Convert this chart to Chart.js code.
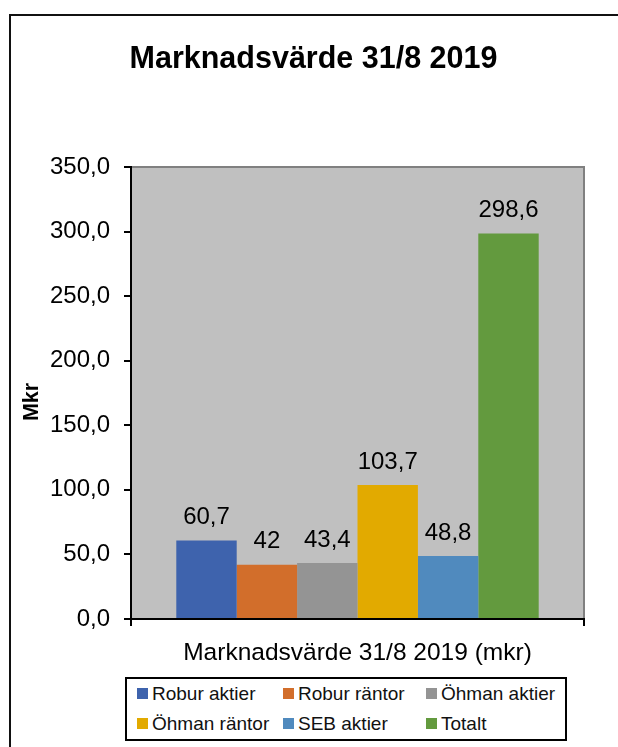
<!DOCTYPE html>
<html><head><meta charset="utf-8">
<script src="https://cdn.jsdelivr.net/npm/chart.js@4.4.1/dist/chart.umd.min.js"></script>
<style>
html,body{margin:0;padding:0;background:#fff;width:618px;height:747px;overflow:hidden;position:relative;font-family:"Liberation Sans",Arial,sans-serif;}
#wrap{position:absolute;left:0;top:0;width:618px;height:747px;}
#frame{position:absolute;left:9px;top:14px;width:700px;height:800px;border:2px solid #111;box-sizing:border-box;pointer-events:none;}
#legend{position:absolute;left:125px;top:677px;width:442px;height:64px;border:2px solid #000;box-sizing:border-box;background:#fff;}
.item{position:absolute;height:20px;display:flex;align-items:center;font-size:19px;color:#111;white-space:nowrap;line-height:1;}
.sw{width:11px;height:11px;margin-right:4px;flex:none;}
</style></head><body>
<div id="wrap"><canvas id="c" width="618" height="747"></canvas></div>
<div id="frame"></div>
<div id="legend"></div>
<script>
const chartTitle = 'Marknadsvärde 31/8 2019';
const categories = ['Marknadsvärde 31/8 2019 (mkr)'];
const seriesNames = ['Robur aktier', 'Robur räntor', 'Öhman aktier', 'Öhman räntor', 'SEB aktier', 'Totalt'];
const seriesValues = [60.7, 42, 43.4, 103.7, 48.8, 298.6];
const seriesColors = ['#3E63AD', '#D26E2B', '#949494', '#E2AA00', '#508ABE', '#639A3E'];
const yTicks = [0, 50, 100, 150, 200, 250, 300, 350];
const yAxisTitle = 'Mkr   ';

const FONT = '"Liberation Sans", Arial, sans-serif';
Chart.defaults.font.family = FONT;
Chart.defaults.color = '#000';

const fmt = v => String(v).replace('.', ',');

const plotBg = {
  id: 'plotBg',
  beforeDraw(chart) {
    const {ctx, chartArea: a} = chart;
    ctx.save();
    ctx.fillStyle = '#C0C0C0';
    ctx.fillRect(a.left, a.top, a.right - a.left, a.bottom - a.top);
    ctx.strokeStyle = '#808080';
    ctx.lineWidth = 2;
    ctx.beginPath();
    ctx.moveTo(a.left, a.top);
    ctx.lineTo(a.right, a.top);
    ctx.lineTo(a.right, a.bottom);
    ctx.stroke();
    ctx.restore();
  }
};

const dataLabels = {
  id: 'dataLabels',
  afterDatasetsDraw(chart) {
    const {ctx} = chart;
    ctx.save();
    ctx.font = '24px ' + FONT;
    ctx.fillStyle = '#000';
    ctx.textAlign = 'center';
    ctx.textBaseline = 'middle';
    chart.data.datasets.forEach((ds, i) => {
      const meta = chart.getDatasetMeta(i);
      meta.data.forEach((el, j) => {
        ctx.fillText(fmt(ds.data[j]), el.x, el.y - 23);
      });
    });
    ctx.restore();
  }
};

const chart = new Chart(document.getElementById('c'), {
  type: 'bar',
  data: {
    labels: categories,
    datasets: seriesNames.map((n, i) => ({
      label: n,
      data: [seriesValues[i]],
      backgroundColor: seriesColors[i],
      borderWidth: 0,
      categoryPercentage: 0.8,
      barPercentage: 1.0
    }))
  },
  options: {
    responsive: false,
    animation: false,
    events: [],
    layout: {padding: {left: 9, right: 0, top: 0, bottom: 68}},
    plugins: {
      legend: {display: false},
      tooltip: {enabled: false},
      title: {
        display: true,
        text: chartTitle,
        color: '#000',
        font: {size: 30.5, weight: 'bold', family: FONT, lineHeight: 1.2},
        padding: {top: 41, bottom: 89.4}
      }
    },
    scales: {
      x: {
        offset: true,
        grid: {display: true, offset: true, drawOnChartArea: false, drawTicks: true, tickLength: 7, color: '#000', lineWidth: 2},
        border: {display: true, color: '#000', width: 2},
        ticks: {font: {size: 24.5, family: FONT}, color: '#000', padding: 13, maxRotation: 0},
        afterFit(s) { s.height = 60; }
      },
      y: {
        min: 0, max: 350,
        afterBuildTicks(s) { s.ticks = yTicks.map(v => ({value: v})); },
        grid: {display: true, drawOnChartArea: false, drawTicks: true, tickLength: 7, color: '#000', lineWidth: 2},
        border: {display: true, color: '#000', width: 2},
        ticks: {font: {size: 24, family: FONT}, color: '#000', padding: 14, callback: v => v.toFixed(1).replace('.', ',')},
        title: {display: true, text: yAxisTitle, color: '#000', font: {size: 21.5, weight: 'bold', family: FONT}, padding: {top: 10, bottom: 0}},
        afterFit(s) { s.width = 122; }
      },
      yR: {
        position: 'right',
        display: true,
        min: 0, max: 350,
        grid: {display: false, drawTicks: false},
        border: {display: false},
        ticks: {display: false},
        afterFit(s) { s.width = 34; }
      }
    }
  },
  plugins: [plotBg, dataLabels]
});

// HTML legend built from chart datasets
const legendEl = document.getElementById('legend');
const colX = [10, 156, 299];
const rowY = [4, 34];
chart.data.datasets.forEach((ds, i) => {
  const it = document.createElement('div');
  it.className = 'item';
  it.style.left = colX[i % 3] + 'px';
  it.style.top = rowY[Math.floor(i / 3)] + 'px';
  const sw = document.createElement('span');
  sw.className = 'sw';
  sw.style.background = ds.backgroundColor;
  const tx = document.createElement('span');
  tx.textContent = ds.label;
  it.appendChild(sw); it.appendChild(tx);
  legendEl.appendChild(it);
});
</script>
</body></html>
